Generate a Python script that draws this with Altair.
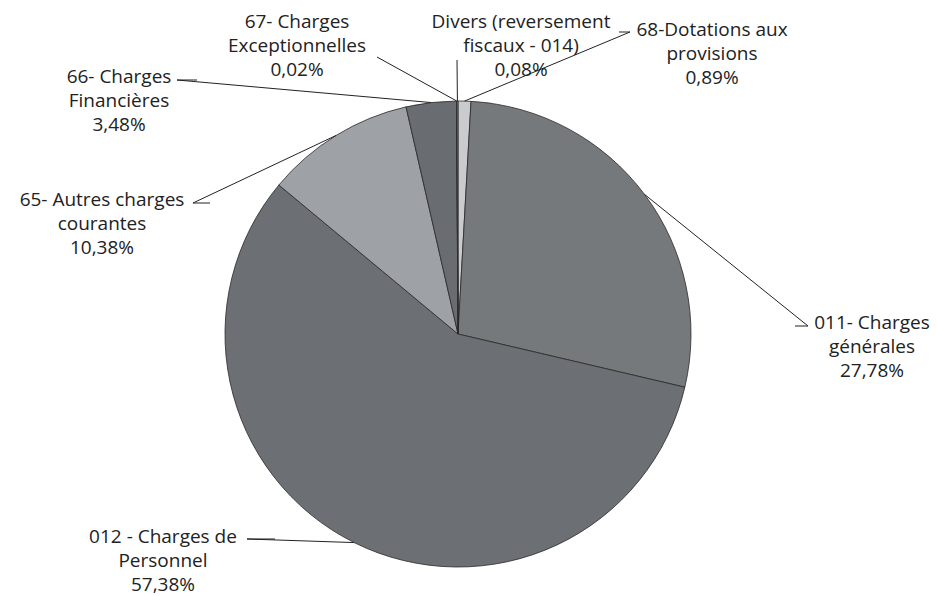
import math
import altair as alt
import pandas as pd

# ---- data ----
categories = ["68-Dotations aux provisions", "011- Charges générales", "012 - Charges de Personnel",
              "65- Autres charges courantes", "66- Charges Financières",
              "67- Charges Exceptionnelles", "Divers (reversement fiscaux - 014)"]
shares = [0.89, 27.78, 57.38, 10.38, 3.48, 0.02, 0.08]
label_lines = [
    ["68-Dotations aux", "provisions", "0,89%"],
    ["011- Charges", "générales", "27,78%"],
    ["012 - Charges de", "Personnel", "57,38%"],
    ["65- Autres charges", "courantes", "10,38%"],
    ["66- Charges", "Financières", "3,48%"],
    ["67- Charges", "Exceptionnelles", "0,02%"],
    ["Divers (reversement", "fiscaux - 014)", "0,08%"],
]

# ---- layout (pixels) ----
W, H = 938, 596
CX, CY, R = 458, 334, 233
colors = ["#c9cbce", "#76797c", "#6c6f73", "#9ea1a6", "#696c70", "#5f6266", "#8e9195"]
label_pos = [(712, 30), (872, 323), (163, 537), (102, 200), (119, 77), (297, 22), (521, 22)]
# label-side elbow points of the leader lines
elbows = [[(630, 32), (619, 32)], [(808, 326), (795, 326)], [(247, 539), (275, 539)],
          [(193, 203), (210, 203)], [(177, 80), (197, 80)], [(377, 57)], [(457, 60)]]

df = pd.DataFrame({"cat": categories, "share": shares, "order": list(range(len(shares)))})

# leader lines from the slice mid-angle on the rim to the label elbows
total = sum(shares)
rows = []
cum = 0.0
for i, s in enumerate(shares):
    mid = (cum + s / 2) / total * 2 * math.pi
    cum += s
    px = CX + R * math.sin(mid)
    py = CY - R * math.cos(mid)
    pts = [(px, py)] + elbows[i]
    for k, (x, y) in enumerate(pts):
        rows.append({"cat": categories[i], "k": k, "x": x, "y": y})
lines_df = pd.DataFrame(rows)

text_rows = []
for i, lines in enumerate(label_lines):
    text_rows.append({"txt": lines, "x": label_pos[i][0], "y": label_pos[i][1]})
text_df = pd.DataFrame(text_rows)

xs = alt.Scale(domain=[0, W], range=[0, W])
ys = alt.Scale(domain=[0, H], range=[0, H])

pie = alt.Chart(df).mark_arc(outerRadius=R, stroke="#2a2a2a", strokeWidth=0.8).encode(
    theta=alt.Theta("share:Q", stack=True),
    order=alt.Order("order:Q"),
    color=alt.Color("cat:N", scale=alt.Scale(domain=categories, range=colors), legend=None),
    x=alt.value(CX), y=alt.value(CY),
)

leaders = alt.Chart(lines_df).mark_line(color="#222222", strokeWidth=1).encode(
    x=alt.X("x:Q", scale=xs, axis=None),
    y=alt.Y("y:Q", scale=ys, axis=None),
    detail="cat:N",
    order="k:Q",
)

labels = alt.Chart(text_df).mark_text(
    font="Open Sans", fontSize=19, color="#222222", align="center", baseline="middle", lineHeight=24
).encode(
    x=alt.X("x:Q", scale=xs, axis=None),
    y=alt.Y("y:Q", scale=ys, axis=None),
    text="txt",
)

chart = alt.layer(pie, leaders, labels).properties(
    width=W, height=H, padding=0, autosize="none", background="white"
).configure_view(stroke=None)

chart.save("out.html", embed_options={"renderer": "svg", "actions": False})
